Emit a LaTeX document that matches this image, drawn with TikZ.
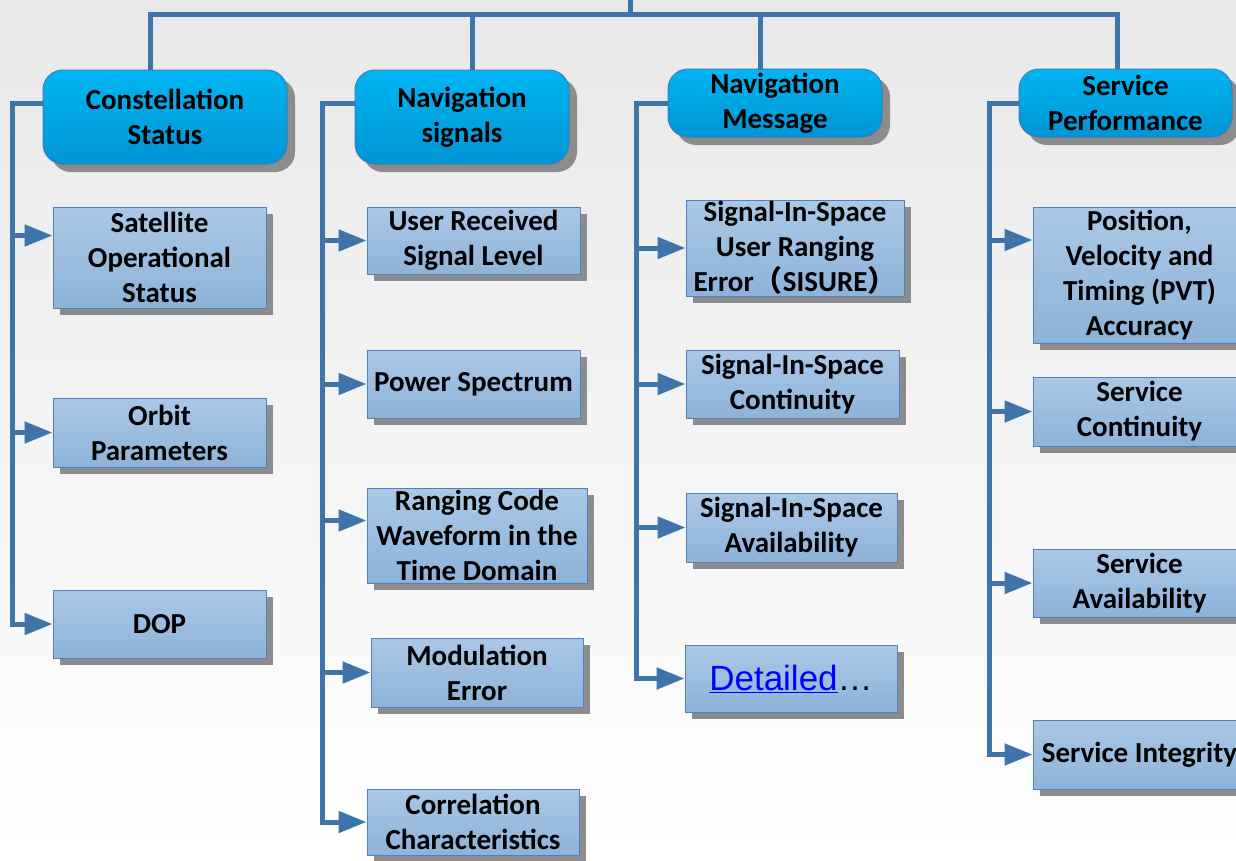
\documentclass[tikz,border=0pt]{standalone}
\usepackage{fontspec}
\setmainfont{Carlito}
\newfontfamily\arialfont{Liberation Sans}
\newfontfamily\cjk{Noto Sans CJK SC}
\usetikzlibrary{arrows.meta,shadows}
\definecolor{linkblue}{HTML}{3E74AA}
\definecolor{headtop}{HTML}{00B5F2}
\definecolor{headbot}{HTML}{0094D4}
\definecolor{headline}{HTML}{3A80BC}
\definecolor{leaftop}{HTML}{AAC8E6}
\definecolor{leafbot}{HTML}{8DB3D8}
\definecolor{leafline}{HTML}{4F81BD}
\definecolor{hyperblue}{HTML}{0000FF}

\begin{document}
\begin{tikzpicture}[x=1pt,y=-1pt,
  head/.style={draw=headline,line width=1pt,rounded corners=20pt,
    top color=headtop,bottom color=headbot,
    drop shadow={shadow xshift=8pt,shadow yshift=-8pt,fill=black!45,opacity=1},
    align=center,inner sep=0pt,font=\fontsize{29}{35}\selectfont\bfseries},
  leaf/.style={draw=leafline,line width=1pt,top color=leaftop,bottom color=leafbot,
    drop shadow={shadow xshift=7pt,shadow yshift=-7pt,fill=black!45,opacity=1},
    align=center,inner sep=0pt,font=\fontsize{29}{35}\selectfont\bfseries},
  link/.style={linkblue,line width=5pt},
  feed/.style={link,-{Triangle[length=28pt,width=21pt]}}]

  %background
  \useasboundingbox (0,0) rectangle (1236,860);
  \fill[top color=black!9,bottom color=white] (0,0) rectangle (1236,860);

  %headers
  \node[head,minimum width=244pt,minimum height=94pt] (cons) at (165,117) {Constellation\\Status};
  \node[head,minimum width=214pt,minimum height=94pt] (sig) at (462,117) {Navigation\\signals};
  \node[head,minimum width=214pt,minimum height=68pt] (msg) at (775,103) {Navigation\\Message};
  \node[head,minimum width=213pt,minimum height=68pt] (perf) at (1125.5,103) {Service\\Performance};

  %constellation
  \node[leaf,minimum width=213pt,minimum height=101pt] (sat) at (159.5,257.5) {Satellite\\Operational\\Status};
  \node[leaf,minimum width=213pt,minimum height=69pt] (orbit) at (159.5,432.5) {Orbit\\Parameters};
  \node[leaf,minimum width=213pt,minimum height=68pt] (dop) at (159.5,624) {DOP};

  %signals
  \node[leaf,minimum width=213pt,minimum height=67pt] (recv) at (473.5,240.5) {User Received\\Signal Level};
  \node[leaf,minimum width=213pt,minimum height=68pt] (power) at (473.5,384) {Power Spectrum};
  \node[leaf,minimum width=220pt,minimum height=95pt] (ranging) at (477,535.5) {Ranging Code\\Waveform in the\\Time Domain};
  \node[leaf,minimum width=212pt,minimum height=69pt] (modul) at (477,672.5) {Modulation\\Error};
  \node[leaf,minimum width=212pt,minimum height=66pt] (corr) at (473,822) {Correlation\\Characteristics};

  %message
  \node[leaf,minimum width=218pt,minimum height=96pt] (sisure) at (795,248) {Signal-In-Space\\User Ranging\\Error{\cjk （}SISURE{\cjk ）}};
  \node[leaf,minimum width=213pt,minimum height=68pt] (sisc) at (792.5,384) {Signal-In-Space\\Continuity};
  \node[leaf,minimum width=211pt,minimum height=69pt] (sisa) at (791.5,527.5) {Signal-In-Space\\Availability};
  \node[leaf,minimum width=212pt,minimum height=67pt] (detail) at (791,678.5)
    {\arialfont\mdseries\fontsize{35}{40}\selectfont\textcolor{hyperblue}{\underline{Detailed}}…};

  %performance
  \node[leaf,minimum width=213pt,minimum height=136pt] (pvt) at (1139.5,275) {Position,\\Velocity and\\Timing (PVT)\\Accuracy};
  \node[leaf,minimum width=213pt,minimum height=69pt] (svcc) at (1139.5,411.5) {Service\\Continuity};
  \node[leaf,minimum width=213pt,minimum height=68pt] (svca) at (1139.5,583) {Service\\Availability};
  \node[leaf,minimum width=213pt,minimum height=69pt] (svci) at (1139.5,754.5) {Service Integrity};

  %top bus
  \coordinate (root) at (630,0);
  \coordinate (bus) at (630,14);
  \draw[link] (root) -- (bus);
  \draw[link] ([xshift=-15pt]cons.north) |- (bus) -| ([xshift=-8pt]perf.north);
  \draw[link] (bus) -| ([xshift=10pt]sig.north);
  \draw[link] (bus) -| ([xshift=-15pt]msg.north);

  %spines
  \coordinate (s1) at (12,103);
  \coordinate (s2) at (322,103);
  \coordinate (s3) at (636,103);
  \coordinate (s4) at (989,103);
  \coordinate (satin) at ([yshift=22pt]sat.west);
  \coordinate (rangin) at ([yshift=15pt]ranging.west);
  \coordinate (pvtin) at ([yshift=35pt]pvt.west);

  \draw[feed] ([yshift=14pt]cons.west) -- (s1) |- (dop.west);
  \draw[feed] (s1 |- satin) -- (satin);
  \draw[feed] (s1 |- orbit.west) -- (orbit.west);

  \draw[feed] ([yshift=14pt]sig.west) -- (s2) |- (corr.west);
  \draw[feed] (s2 |- recv.west) -- (recv.west);
  \draw[feed] (s2 |- power.west) -- (power.west);
  \draw[feed] (s2 |- rangin) -- (rangin);
  \draw[feed] (s2 |- modul.west) -- (modul.west);

  \draw[feed] (msg.west) -- (s3) |- (detail.west);
  \draw[feed] (s3 |- sisure.west) -- (sisure.west);
  \draw[feed] (s3 |- sisc.west) -- (sisc.west);
  \draw[feed] (s3 |- sisa.west) -- (sisa.west);

  \draw[feed] (perf.west) -- (s4) |- (svci.west);
  \draw[feed] (s4 |- pvtin) -- (pvtin);
  \draw[feed] (s4 |- svcc.west) -- (svcc.west);
  \draw[feed] (s4 |- svca.west) -- (svca.west);
\end{tikzpicture}
\end{document}
